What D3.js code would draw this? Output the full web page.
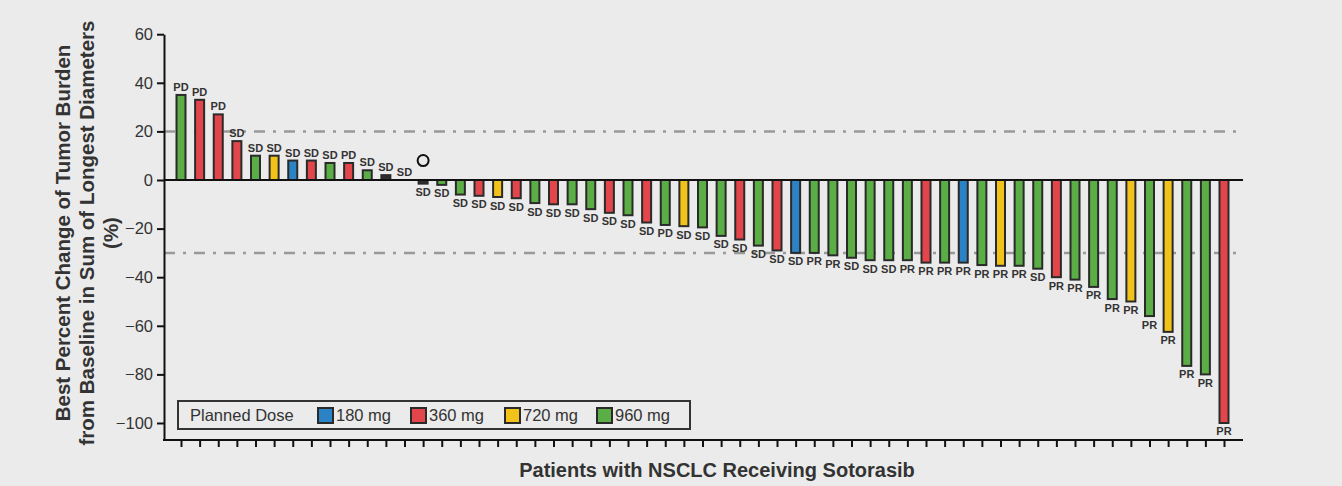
<!DOCTYPE html>
<html>
<head>
<meta charset="utf-8">
<script src="https://cdn.jsdelivr.net/npm/d3@7"></script>
<style>
  html, body { margin: 0; padding: 0; background: #ebebeb; }
  svg { display: block; }
  text { font-family: "Liberation Sans", Arial, Helvetica, sans-serif; }
</style>
</head>
<body>
<svg id="chart" width="1342" height="486"></svg>
<script>
// Best percent change from baseline, one entry per patient (waterfall order)
const patients = d3.range(1, 58);
const changes = [35, 33, 27, 16, 10, 10, 8, 8, 7, 7, 4, 2, 0, -1.5, -2, -6, -6.5, -7, -7.5, -9.5,
  -10, -10, -12, -13.5, -14.5, -17.5, -18.5, -19, -19.5, -23, -24.5, -27, -29, -30, -30, -31,
  -32, -33, -33, -33, -34, -34, -34, -35, -35.3, -35.3, -36.5, -40, -41, -44, -49, -50, -56,
  -62.5, -76.5, -80, -100];
// Planned dose in mg (0 = not shown in colour)
const doses = [960, 360, 360, 360, 960, 720, 180, 360, 960, 360, 960, 0, 0, 0, 960, 960, 360, 720,
  360, 960, 360, 960, 960, 360, 960, 360, 960, 720, 960, 960, 360, 960, 360, 180, 960, 960, 960,
  960, 960, 960, 360, 960, 180, 960, 720, 960, 960, 360, 960, 960, 960, 720, 960, 720, 960, 960, 360];
// Best overall response
const responses = ["PD", "PD", "PD", "SD", "SD", "SD", "SD", "SD", "SD", "PD", "SD", "SD", "SD",
  "SD", "SD", "SD", "SD", "SD", "SD", "SD", "SD", "SD", "SD", "SD", "SD", "SD", "PD", "SD", "SD",
  "SD", "SD", "SD", "SD", "SD", "PR", "PR", "SD", "SD", "SD", "PR", "PR", "PR", "PR", "PR", "PR",
  "PR", "SD", "PR", "PR", "PR", "PR", "PR", "PR", "PR", "PR", "PR", "PR"];
// Patients flagged with an open-circle marker
const flagged = [14];
const flagLevel = 8;

const yTicks = [60, 40, 20, 0, -20, -40, -60, -80, -100];
const refLines = [20, -30];
const doseLevels = [180, 360, 720, 960];
const doseLabels = ["180 mg", "360 mg", "720 mg", "960 mg"];
const doseColors = ["#2b83c6", "#e2464b", "#f1c31a", "#5aae45"];

const svg = d3.select("#chart");
const axisX = 164;
const plotRight = 1243;

const x = d3.scalePoint().domain(patients).range([181, 1224]);
const y = d3.scaleLinear().domain([-107, 60]).range([440, 34.2]);
const color = d3.scaleOrdinal().domain(doseLevels).range(doseColors).unknown("#2e2e2e");

const rows = patients.map((p, i) => ({ p, v: changes[i], dose: doses[i], resp: responses[i] }));

// reference lines (dash-dot)
svg.append("g").selectAll("line").data(refLines).join("line")
  .attr("x1", axisX).attr("x2", plotRight)
  .attr("y1", d => y(d)).attr("y2", d => y(d))
  .attr("stroke", "#999").attr("stroke-width", 2.5)
  .attr("stroke-dasharray", "11,8,3,8");

// bars
const barW = 9;
svg.append("g").selectAll("rect").data(rows.filter(d => d.v !== 0)).join("rect")
  .attr("x", d => x(d.p) - barW / 2)
  .attr("width", barW)
  .attr("y", d => Math.min(y(d.v), y(0)))
  .attr("height", d => Math.abs(y(d.v) - y(0)))
  .attr("fill", d => color(d.dose))
  .attr("stroke", "#2a2a2a").attr("stroke-width", 2);

// response labels
svg.append("g").selectAll("text").data(rows).join("text")
  .attr("x", d => x(d.p))
  .attr("y", d => d.v >= 0 ? y(d.v) - 4 : y(d.v) + 12.5)
  .attr("text-anchor", "middle")
  .attr("font-size", 11).attr("font-weight", "bold").attr("fill", "#333")
  .text(d => d.resp);

// open-circle markers
svg.append("g").selectAll("circle").data(flagged).join("circle")
  .attr("cx", d => x(d)).attr("cy", y(flagLevel)).attr("r", 5.5)
  .attr("fill", "none").attr("stroke", "#111").attr("stroke-width", 2);

// zero line
svg.append("line")
  .attr("x1", axisX).attr("x2", plotRight)
  .attr("y1", y(0)).attr("y2", y(0))
  .attr("stroke", "#111").attr("stroke-width", 2);

// y axis
const yAxis = svg.append("g").attr("transform", `translate(${axisX},0)`)
  .call(d3.axisLeft(y).tickValues(yTicks).tickSize(7).tickSizeOuter(0).tickPadding(4)
    .tickFormat(d => d < 0 ? "\u2212" + Math.abs(d) : d));
yAxis.select(".domain").attr("stroke", "#111").attr("stroke-width", 2);
yAxis.selectAll(".tick line").attr("stroke", "#111").attr("stroke-width", 2);
yAxis.selectAll(".tick text").attr("font-size", 16.5).attr("fill", "#333")
  .style("font-family", "'Liberation Sans', Arial, sans-serif");

// x axis (one tick per patient, no labels)
const xAxis = svg.append("g").attr("transform", `translate(0,${y(-107)})`)
  .call(d3.axisBottom(x).tickSize(7).tickSizeOuter(0).tickFormat(""));
xAxis.select(".domain").attr("d", `M${axisX - 1},0H${plotRight}`)
  .attr("stroke", "#111").attr("stroke-width", 2);
xAxis.selectAll(".tick line").attr("stroke", "#111").attr("stroke-width", 2);

// axis titles
const yTitle = svg.append("text")
  .attr("transform", "translate(0,233) rotate(-90)")
  .attr("text-anchor", "middle").attr("font-weight", "bold")
  .attr("font-size", 20.5).attr("fill", "#333");
yTitle.append("tspan").attr("x", 0).attr("y", 70).text("Best Percent Change of Tumor Burden");
yTitle.append("tspan").attr("x", 0).attr("y", 94).text("from Baseline in Sum of Longest Diameters");
yTitle.append("tspan").attr("x", 0).attr("y", 118).text("(%)");

svg.append("text")
  .attr("x", 717).attr("y", 477)
  .attr("text-anchor", "middle").attr("font-weight", "bold")
  .attr("font-size", 20).attr("fill", "#333")
  .text("Patients with NSCLC Receiving Sotorasib");

// legend
const legend = svg.append("g").attr("transform", "translate(178,401)");
legend.append("rect").attr("width", 512).attr("height", 28)
  .attr("fill", "none").attr("stroke", "#333").attr("stroke-width", 2);
legend.append("text").attr("x", 12).attr("y", 20)
  .attr("font-size", 16.5).attr("fill", "#333").text("Planned Dose");
const itemX = [140, 233, 327, 419];
const items = legend.selectAll("g.item").data(doseLevels).join("g")
  .attr("class", "item")
  .attr("transform", (d, i) => `translate(${itemX[i]},0)`);
items.append("rect").attr("x", 0).attr("y", 7).attr("width", 15).attr("height", 15)
  .attr("fill", d => color(d)).attr("stroke", "#2a2a2a").attr("stroke-width", 2);
items.append("text").attr("x", 18).attr("y", 20)
  .attr("font-size", 16.5).attr("fill", "#333")
  .text((d, i) => doseLabels[i]);
</script>
</body>
</html>
